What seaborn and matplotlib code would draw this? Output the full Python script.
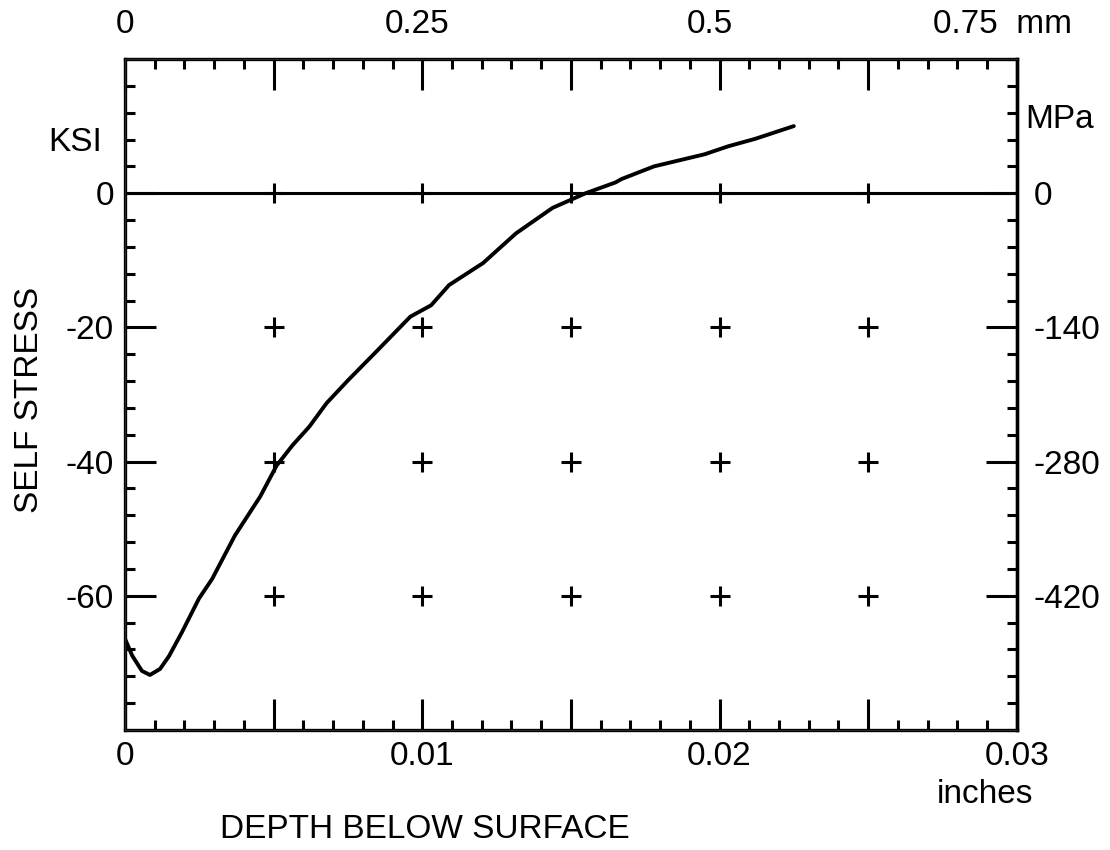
import numpy as np
import pandas as pd
import matplotlib
matplotlib.use('Agg')
import matplotlib.pyplot as plt
import seaborn as sns
from matplotlib.ticker import MultipleLocator, FixedLocator, FuncFormatter

# Self stress profile
depth_in = [0.0, 0.00024, 0.00057, 0.00084, 0.00118, 0.00148, 0.00192, 0.00249, 0.00293,
            0.0037, 0.00455, 0.0051, 0.00563, 0.0062, 0.00678, 0.0075, 0.0085, 0.0096,
            0.0103, 0.0109, 0.01205, 0.01315, 0.01438, 0.0155, 0.0165, 0.0167, 0.0178,
            0.0195, 0.0203, 0.0212, 0.0225]
stress_ksi = [-66.4, -68.9, -71.2, -71.8, -70.9, -69.0, -65.4, -60.4, -57.5,
              -51.0, -45.2, -40.6, -37.6, -34.8, -31.3, -27.9, -23.4, -18.4,
              -16.7, -13.7, -10.4, -6.0, -2.2, 0.0, 1.6, 2.1, 4.0,
              5.8, 7.0, 8.1, 10.0]

# grid crosses
cross_x = [0.005, 0.01, 0.015, 0.02, 0.025]
cross_rows = [0, -20, -40, -60]

inch_labels = [0, 0.01, 0.02, 0.03]
mm_ticks = [0, 0.25, 0.5, 0.75]
mm_labels = ['0', '0.25', '0.5', '0.75  mm']
mpa_ticks = [0, -140, -280, -420]

sns.set_style('ticks')
plt.rcParams['font.family'] = ['Liberation Sans', 'DejaVu Sans']
plt.rcParams['font.size'] = 24
plt.rcParams['text.color'] = 'black'
plt.rcParams['xtick.color'] = 'black'
plt.rcParams['ytick.color'] = 'black'
plt.rcParams['xtick.labelcolor'] = 'black'
plt.rcParams['ytick.labelcolor'] = 'black'

fig = plt.figure(figsize=(11.1, 8.5), dpi=100)
ax = fig.add_axes([0.1126, 0.1412, 0.8034, 0.7894])

curve = pd.DataFrame({'depth': depth_in, 'stress': stress_ksi})
sns.lineplot(data=curve, x='depth', y='stress', sort=False, color='black', lw=2.8, ax=ax)

grid = pd.DataFrame([(x, y) for y in cross_rows for x in cross_x], columns=['x', 'y'])
sns.scatterplot(data=grid, x='x', y='y', marker='+', s=220, color='black', linewidth=2.2, ax=ax)

ax.axhline(0, color='black', lw=2.2)

ax.set_xlim(0, 0.03)
ax.set_ylim(-80, 20)
ax.set_xlabel('')
ax.set_ylabel('')

for sp in ax.spines.values():
    sp.set_linewidth(2.4)
    sp.set_color('black')

ax.xaxis.set_major_locator(MultipleLocator(0.005))
ax.xaxis.set_minor_locator(MultipleLocator(0.001))
ax.xaxis.set_major_formatter(FuncFormatter(
    lambda v, p: ('0' if abs(v) < 1e-9 else f'{v:.2f}') if any(abs(v - l) < 1e-9 for l in inch_labels) else ''))
ax.yaxis.set_major_locator(MultipleLocator(20))
ax.yaxis.set_minor_locator(MultipleLocator(4))
ax.yaxis.set_major_formatter(FuncFormatter(
    lambda v, p: ('0' if abs(v) < 1e-9 else f'{v:.0f}') if -70 < v < 10 else ''))
ax.tick_params(which='both', direction='in', top=True, right=False, color='black', width=2.2)
ax.tick_params(which='major', length=22, pad=8)
ax.tick_params(which='minor', length=7)

# right axis in MPa
ax2 = ax.twinx()
ax2.set_ylim(-560, 140)
ax2.yaxis.set_major_locator(FixedLocator(mpa_ticks))
ax2.yaxis.set_minor_locator(MultipleLocator(28))
ax2.set_yticklabels([str(t) for t in mpa_ticks])
ax2.tick_params(which='both', direction='in', color='black', width=2.2)
ax2.tick_params(which='major', length=22, pad=12)
ax2.tick_params(which='minor', length=7)
ax2.spines['right'].set_linewidth(2.4)
ax2.spines['right'].set_color('black')

# top axis in mm
top = ax.secondary_xaxis('top', functions=(lambda v: v * 25.4, lambda v: v / 25.4))
top.set_xticks(mm_ticks)
top.set_xticklabels(mm_labels)
top.tick_params(length=0, pad=14)

fig.text(0.068, 0.832, 'KSI', ha='center', va='center')
fig.text(0.955, 0.859, 'MPa', ha='center', va='center')
fig.text(0.027, 0.53, 'SELF STRESS', rotation=90, ha='center', va='center')
fig.text(0.383, 0.024, 'DEPTH BELOW SURFACE', ha='center', va='center')
fig.text(0.887, 0.065, 'inches', ha='center', va='center')

fig.savefig('out.png', dpi=100)
